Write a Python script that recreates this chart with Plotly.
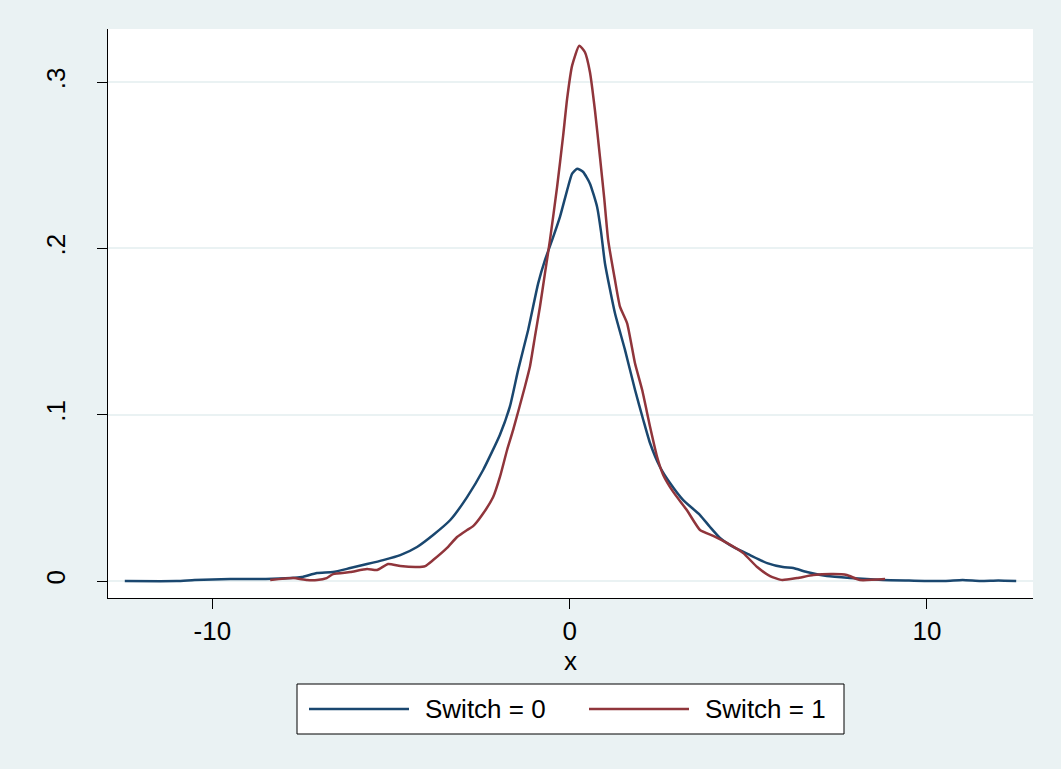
import plotly.graph_objects as go

# ---- data ----
x_switch0 = [-12.45, -11.0, -10.5, -9.5, -8.5, -7.8, -7.5, -7.07, -6.62, -6.14, -5.67, -5.22,
             -4.74, -4.27, -3.82, -3.34, -2.87, -2.42, -1.95, -1.67, -1.44, -1.16, -0.88,
             -0.69, -0.49, -0.27, -0.07, 0.07, 0.21, 0.38, 0.57, 0.77, 0.88, 0.99, 1.27, 1.55,
             1.83, 2.06, 2.25, 2.53, 2.81, 3.18, 3.65, 3.93, 4.21, 4.58, 5.05, 5.53, 5.97,
             6.26, 6.64, 7.2, 7.85, 8.77, 9.5, 10.5, 11.0, 11.5, 12.0, 12.5]
y_switch0 = [0.0, 0.0, 0.0006, 0.0012, 0.0012, 0.0018, 0.0024, 0.0048, 0.0054, 0.0078, 0.0102,
             0.0126, 0.0156, 0.0205, 0.0277, 0.0367, 0.0505, 0.0668, 0.088, 0.105, 0.127,
             0.151, 0.179, 0.193, 0.205, 0.219, 0.235, 0.245, 0.248, 0.246, 0.239, 0.225,
             0.210, 0.191, 0.161, 0.139, 0.115, 0.097, 0.083, 0.0686, 0.059, 0.0487, 0.0397,
             0.0325, 0.0259, 0.0205, 0.0156, 0.0108, 0.0084, 0.0078, 0.0054, 0.003, 0.0018,
             0.0006, 0.0003, 0.0, 0.0006, 0.0, 0.0003, 0.0]

x_switch1 = [-8.38, -7.74, -7.35, -7.07, -6.8, -6.62, -6.14, -5.67, -5.39, -5.08, -4.74,
             -4.27, -4.04, -3.82, -3.43, -3.15, -2.87, -2.7, -2.45, -2.14, -1.95, -1.75,
             -1.58, -1.25, -1.11, -0.97, -0.83, -0.69, -0.55, -0.35, -0.18, -0.07, 0.07,
             0.27, 0.43, 0.57, 0.71, 0.85, 0.97, 1.08, 1.27, 1.41, 1.61, 1.83, 2.03, 2.25,
             2.45, 2.62, 2.9, 3.28, 3.65, 4.02, 4.4, 4.86, 5.25, 5.61, 5.95, 6.37, 6.82,
             7.38, 7.76, 8.13, 8.83]
y_switch1 = [0.0006, 0.0018, 0.0006, 0.0006, 0.0018, 0.0042, 0.0054, 0.0072, 0.0066, 0.0102,
             0.009, 0.0084, 0.009, 0.0126, 0.0199, 0.0265, 0.0307, 0.033, 0.0397, 0.0505,
             0.0626, 0.0788, 0.0909, 0.117, 0.129, 0.147, 0.165, 0.185, 0.205, 0.237,
             0.268, 0.290, 0.310, 0.322, 0.318, 0.306, 0.283, 0.255, 0.230, 0.205, 0.181,
             0.165, 0.155, 0.131, 0.115, 0.093, 0.0746, 0.0638, 0.0536, 0.0427, 0.0307,
             0.0271, 0.0229, 0.0168, 0.0084, 0.003, 0.0006, 0.0018, 0.0036, 0.0042, 0.0036,
             0.0006, 0.0012]

series_names = ["Switch = 0", "Switch = 1"]
x_tickvals = [-10, 0, 10]
x_ticktext = ["-10", "0", "10"]
y_tickvals = [0, 0.1, 0.2, 0.3]
y_ticktext = ["0", ".1", ".2", ".3"]

# ---- style ----
BLUE = "#1A476F"
RED = "#90353B"
BG = "#EAF2F3"
FONT = "Arial, Liberation Sans, sans-serif"
W, H = 1061, 769
L, R, T, B = 108, 28, 29, 171
PW, PH = W - L - R, H - T - B


def px_x(px):
    return (px - L) / PW


def px_y(py):
    return (H - B - py) / PH


fig = go.Figure()
fig.add_trace(go.Scatter(x=x_switch0, y=y_switch0, mode="lines", name=series_names[0],
                         line=dict(color=BLUE, width=2.5, shape="spline", smoothing=0.5)))
fig.add_trace(go.Scatter(x=x_switch1, y=y_switch1, mode="lines", name=series_names[1],
                         line=dict(color=RED, width=2.5, shape="spline", smoothing=0.5)))

# custom legend (Stata style)
shapes = [
    dict(type="rect", xref="paper", yref="paper", x0=px_x(297), x1=px_x(844),
         y0=px_y(734), y1=px_y(684), line=dict(color="black", width=1), fillcolor="white",
         layer="above"),
    dict(type="line", xref="paper", yref="paper", x0=px_x(309), x1=px_x(409),
         y0=px_y(709), y1=px_y(709), line=dict(color=BLUE, width=2.5)),
    dict(type="line", xref="paper", yref="paper", x0=px_x(589), x1=px_x(689),
         y0=px_y(709), y1=px_y(709), line=dict(color=RED, width=2.5)),
]
annotations = [
    dict(text=series_names[0], xref="paper", yref="paper", x=px_x(423), y=px_y(709),
         xanchor="left", yanchor="middle", showarrow=False,
         font=dict(family=FONT, size=26, color="black")),
    dict(text=series_names[1], xref="paper", yref="paper", x=px_x(703), y=px_y(709),
         xanchor="left", yanchor="middle", showarrow=False,
         font=dict(family=FONT, size=26, color="black")),
]

fig.update_layout(
    width=W, height=H, autosize=False,
    margin=dict(l=L, r=R, t=T, b=B, pad=0),
    paper_bgcolor=BG, plot_bgcolor="white",
    showlegend=False,
    font=dict(family=FONT, size=26, color="black"),
    shapes=shapes, annotations=annotations,
    xaxis=dict(range=[-12.92, 12.97], tickmode="array", tickvals=x_tickvals,
               ticktext=x_ticktext, ticks="outside", ticklen=10, tickwidth=1,
               tickcolor="black", showline=True, linecolor="black", linewidth=1,
               showgrid=False, zeroline=False,
               tickfont=dict(family=FONT, size=26, color="black"),
               title=dict(text="x", font=dict(family=FONT, size=26, color="black"),
                          standoff=0)),
    yaxis=dict(range=[-0.0102, 0.332], tickmode="array", tickvals=y_tickvals,
               ticktext=y_ticktext, tickangle=-90, ticks="outside", ticklen=10,
               tickwidth=1, tickcolor="black", showline=True, linecolor="black",
               linewidth=1, showgrid=True, gridcolor=BG, gridwidth=2, zeroline=False,
               ticklabelstandoff=22,
               tickfont=dict(family=FONT, size=26, color="black")),
)

fig.write_html(
    "out.html",
    config={"displayModeBar": False},
    post_script="document.body.style.margin='0';document.body.style.overflow='hidden';",
)
